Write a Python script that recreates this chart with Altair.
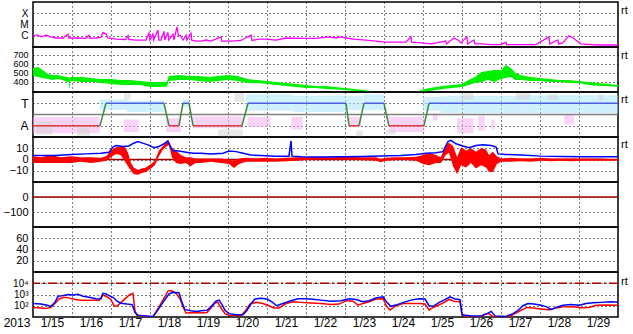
import altair as alt
import pandas as pd

# ---------------- axis labels ----------------
DAY_LABELS = ["1/15", "1/16", "1/17", "1/18", "1/19", "1/20", "1/21", "1/22",
              "1/23", "1/24", "1/25", "1/26", "1/27", "1/28", "1/29"]
DAY_NOON_HOURS = [12, 36, 60, 84, 108, 132, 156, 180, 204, 228, 252, 276, 300, 324, 348]
MIDNIGHT_HOURS = [24, 48, 72, 96, 120, 144, 168, 192, 216, 240, 264, 288, 312, 336]
YEAR_LABEL = "2013"

# ---------------- panel 1: X-ray flux (log10 W/m2), hours since 1/15 00:00 ----------------
XRAY = [(0, -6.02), (2.5, -5.93), (5, -6.1), (8, -5.95), (11, -6.1), (14, -6.2), (18.5, -6.2),
        (21.5, -5.85), (22, -6.2), (26.5, -6.2), (32.6, -6.24), (34.5, -5.95), (35, -6.22),
        (38.8, -6.2), (41.8, -6.12), (43, -5.7), (45, -5.85), (46, -6.2), (51, -6.3), (57, -6.33),
        (58.5, -6.0), (59, -6.33), (63.4, -6.38), (69.5, -6.38), (71.4, -5.75), (72, -6.38),
        (73.8, -5.85), (74.3, -6.38), (76.9, -5.5), (77.5, -6.38), (78.8, -6.38), (80.6, -5.6),
        (81.1, -6.38), (83, -5.7), (83.5, -6.38), (86.2, -5.85), (86.7, -6.38), (88.6, -5.22),
        (89.5, -6.0), (90.5, -5.95), (92.3, -6.38), (94.2, -5.95), (94.7, -6.38), (97.2, -5.75),
        (97.7, -6.4), (100.3, -6.47), (103.4, -6.47), (106.5, -6.38), (109.5, -6.47),
        (115.7, -6.1), (116.2, -6.47), (121.8, -6.47), (128, -6.42), (134.2, -5.93),
        (134.7, -6.42), (139, -6.3), (143.4, -6.3), (149.5, -6.38), (155.7, -6.2), (165, -6.24),
        (174, -6.24), (182, -6.1), (186.5, -6.2), (189.5, -6.1), (192.6, -6.2), (198.8, -6.33),
        (205, -6.38), (211, -6.47), (217, -6.56), (223.4, -6.56), (229.5, -6.56), (232.6, -6.1),
        (233, -6.56), (238.8, -6.64), (245, -6.73), (254, -6.47), (254.5, -6.73), (259, -6.2),
        (261.5, -6.38), (263.4, -6.64), (267, -6.1), (267.5, -6.73), (271.4, -6.38), (272, -6.73),
        (275.7, -6.73), (282, -6.78), (288, -6.78), (291, -6.56), (291.5, -6.78), (300.3, -6.78),
        (309.5, -6.78), (317.5, -6.1), (318, -6.73), (323, -6.38), (323.5, -6.73), (326, -6.64),
        (329.8, -6.0), (332.3, -6.2), (334.8, -6.47), (337.2, -6.73), (343.4, -6.78),
        (349.5, -6.82), (355.7, -6.82), (360, -6.82)]

# ---------------- panel 2: solar wind speed band (km/s): hour, low, high ----------------
SPEED = [(0, 463, 552), (3, 452, 563), (6, 441, 530), (9, 430, 485), (12, 418, 474), (15, 430, 474),
         (18, 418, 463), (21, 396, 452), (22, 396, 450), (22.5, 307, 430), (23, 407, 452),
         (24, 407, 452), (30, 396, 452), (36, 396, 441), (42, 385, 430), (48, 374, 430),
         (54, 363, 418), (60, 363, 418), (66, 363, 407), (72, 341, 396), (78, 341, 396),
         (82.5, 345, 400), (83.5, 407, 463), (90, 418, 474), (96, 418, 463), (102, 407, 463),
         (108, 396, 452), (114, 407, 463), (120, 418, 474), (126, 407, 463), (132, 385, 430),
         (138, 385, 418), (144, 374, 407), (150, 363, 396), (156, 352, 385), (162, 341, 374),
         (168, 330, 363), (174, 330, 352), (180, 318, 352), (186, 313, 341), (192, 307, 330),
         (198, 296, 318), (204, 285, 307), (210, 263, 285), (220, 255, 275), (230, 255, 275),
         (236, 265, 285), (241, 285, 318), (244, 296, 330), (248, 307, 341), (252, 318, 352),
         (258, 330, 363), (264, 341, 374), (268, 363, 418), (272, 385, 452), (276, 396, 507),
         (280, 418, 518), (284, 396, 530), (288, 430, 530), (291, 441, 585), (294, 452, 552),
         (297, 418, 496), (300, 418, 474), (306, 407, 452), (312, 407, 441), (318, 396, 430),
         (324, 396, 418), (330, 385, 418), (336, 385, 407), (342, 363, 396), (348, 352, 385),
         (354, 352, 374), (360, 341, 363)]

# ---------------- panel 3: IMF sector (phi, deg) ----------------
STEP_SEGMENTS = [(0, 41.2, 90, 90, "away"), (41.2, 44.9, 90, 270, "change"),
                 (44.9, 80.6, 270, 270, "toward"), (80.6, 83.7, 270, 90, "change"),
                 (83.7, 89.8, 90, 90, "away"), (89.8, 92.3, 90, 270, "change"),
                 (92.3, 96, 270, 270, "toward"), (96, 98.5, 270, 90, "change"),
                 (98.5, 128.6, 90, 90, "away"), (128.6, 132.3, 90, 270, "change"),
                 (132.3, 192.6, 270, 270, "toward"), (192.6, 194.5, 270, 90, "change"),
                 (194.5, 200.6, 90, 90, "away"), (200.6, 203.7, 90, 270, "change"),
                 (203.7, 216, 270, 270, "toward"), (216, 219, 270, 90, "change"),
                 (219, 240.6, 90, 90, "away"), (240.6, 243.7, 90, 270, "change"),
                 (243.7, 360, 270, 270, "toward")]
PHI_TOWARD = [(41, 58, 216, 300), (58, 81, 200, 290), (92, 96, 240, 300), (131, 160, 210, 340),
              (160, 193, 200, 330), (193, 203, 215, 330), (203.7, 216, 215, 340),
              (240, 251, 210, 320), (251, 300, 192, 330), (300, 360, 192, 335)]
PHI_AWAY = [(0, 41, 30, 160), (56, 65, 40, 140), (82, 91, 40, 150), (98.5, 129, 70, 165),
            (132, 146, 80, 160), (159, 166, 60, 160), (194, 202, 80, 160), (219, 241, 40, 160),
            (246, 249, 130, 190), (261, 271, 30, 150), (274, 278, 50, 170), (282, 284, 60, 140),
            (327, 333, 100, 180)]
PHI_OTHER = [(2, 12, 20, 120), (27, 35, 10, 90), (56, 60, 300, 350), (114, 129, 0, 60),
             (124, 130, 280, 350), (199, 203, 0, 50), (217, 223, 20, 60), (263, 271, 300, 350),
             (297, 306, 300, 350), (317, 323, 300, 340), (348, 351, 290, 340)]
PHI_MID = [180]

# ---------------- panel 4: IMF Bt (line) and Bz (band), nT ----------------
BT = [(0, 3.5), (8, 3.5), (14, 3.5), (23.4, 4.5), (32.6, 5), (41.8, 5.5), (46.8, 6.5), (49.2, 11),
      (51, 12.5), (55.4, 11.5), (59, 12), (62, 14.5), (64.6, 16), (66.5, 15), (70.8, 13),
      (74.5, 10.5), (77.5, 11.5), (80.6, 14), (83, 16.5), (84.3, 12), (86, 8), (89.8, 7.5),
      (94.2, 6.5), (98.5, 5.5), (103.4, 5.5), (109.5, 5), (117, 5.5), (120.6, 7.5), (125, 7),
      (128, 6), (134, 4), (140, 3.5), (149.5, 3), (157.5, 3), (158.8, 16.5), (159.4, 3),
      (165, 2.5), (177, 2.2), (189.5, 2.5), (202, 2.7), (214, 3.2), (226.5, 3.5), (235.7, 4.5),
      (241.8, 5.5), (248, 6), (252.3, 7), (255.4, 16), (257.2, 17), (260.3, 14), (264.6, 12),
      (268.3, 10.5), (272.6, 12.5), (276.9, 13), (282, 12.5), (285, 11), (286.2, 5), (291, 4.5),
      (300.3, 4), (312.6, 3), (325, 2.7), (337, 2.5), (349.5, 2.5), (360, 2.5)]
BZ = [(0, -3, 3), (5, -3, 2), (11, -3, 4), (17, -3, 2), (23.4, -3, 3), (29.5, -2, 2),
      (35.7, -3, 2), (41.8, -2, 1.5), (45, -1, 3), (48, 2, 8), (51, 5, 11), (54, 4, 12),
      (56.6, -2, 11), (58.5, -6, 6), (60.3, -10, -3), (62, -13, -7), (64.6, -13.5, -9),
      (67, -12, -8), (69.5, -11, -7), (72.6, -8, -4), (75, -5, -1), (77.5, 3, 8), (80, 9, 12),
      (82.5, 12, 16), (83.7, 13, 16), (85.5, 2, 10), (88, -3, 8), (91, -4, 4), (94, -3, 2),
      (97, -6, 2), (100, -3, 1), (103.4, -3, 1), (109.5, -2, 1), (115.7, -3, 1), (120.6, -4, 0),
      (123.7, -7.5, -1), (126.8, -4, 1), (131, -2, 1.5), (137, -2, 1), (143.4, -2, 1.5),
      (149.5, -2, 1), (155.7, -1.5, 1.5), (162, -1, 2), (168, -0.5, 2), (174, 0, 2.5),
      (183, 0, 2), (192.6, 0, 2.5), (202, -0.5, 2), (211, -1, 2), (214, -2.5, 0.5),
      (217, -1, 1.5), (223.4, -0.5, 2), (229.5, -0.5, 2), (235.7, -1, 2.5), (240, -4, 4),
      (243.7, -5, 6), (248, -3, 4), (251, -3, 2), (254, 4, 13), (256, 6, 15), (258.5, -6, 12),
      (261, -13, 2), (263.4, -5, 11), (266.5, -7, 8), (269.5, -3, 10), (272.6, -8, 7),
      (275.7, -5, 10), (278.8, -7, 9), (280.6, -11, 4), (283, -11, 7), (285.5, -4, 3),
      (288, -2, 1), (294, -2, 1.5), (300.3, -1.5, 1), (306.5, -2, 1), (312.6, -1, 1.5),
      (318.8, -1.5, 1), (325, -1, 1), (331, -1.5, 1), (337, -1, 1), (343.4, -1, 1),
      (349.5, -1, 1), (355.7, -1, 0.5), (360, -1, 0.5)]
BZ_ZERO = [0]

# ---------------- panel 5 / 6 ----------------
DST_ZERO = [0]

# ---------------- panel 7: particle flux (log10) ----------------
FLUX_BLUE = [(0, 2.2), (4.9, 2.15), (8, 2.07), (11, 1.95), (13.5, 2.3), (15.4, 2.85), (18.5, 2.9),
             (21.5, 3.0), (24.6, 2.95), (27.7, 3.02), (30.8, 2.85), (34.5, 2.75), (38.8, 2.62),
             (41.8, 2.6), (43, 3.1), (45, 3.05), (46.8, 2.9), (49.2, 2.75), (51.7, 2.4),
             (54.2, 2.22), (57.8, 2.15), (61, 2.1), (62.8, 1.4), (64.6, 1.15), (69.5, 1.1),
             (73.8, 1.05), (76.3, 1.5), (78.8, 2.05), (81.2, 2.55), (83.7, 3.05), (86.2, 3.2),
             (89.8, 3.15), (91.7, 2.3), (93.5, 1.65), (97.2, 1.55), (101, 1.5), (103.4, 1.55),
             (107, 1.6), (109.5, 1.9), (112.6, 2.4), (114.5, 2.5), (116.3, 2.1), (118.2, 1.6),
             (120.6, 1.3), (125, 1.2), (129.2, 1.2), (131.7, 1.6), (134.2, 2.2), (136.6, 2.6),
             (140.3, 2.66), (144, 2.6), (147, 2.35), (150, 2.0), (153.8, 2.2), (158.8, 2.45),
             (163, 2.62), (168, 2.62), (172.3, 2.58), (177.2, 2.5), (183.4, 2.4), (189.5, 2.45),
             (194.5, 2.62), (198.8, 2.55), (203, 2.35), (206.8, 2.45), (211, 2.7), (215.4, 2.8),
             (217.8, 2.3), (220.3, 1.95), (224, 2.1), (228.3, 2.3), (232.6, 2.5), (237.5, 2.62),
             (241.2, 2.6), (243.7, 2.0), (246.2, 1.95), (250, 2.3), (253.5, 2.55), (256.6, 2.8),
             (259.7, 2.6), (262.8, 2.55), (264, 1.2), (269.5, 1.08), (275.7, 1.1), (279.4, 1.3),
             (282, 1.5), (284.3, 1.1), (291, 1.05), (295.4, 1.3), (298.5, 1.6), (301.5, 2.0),
             (304.6, 2.2), (308.3, 2.15), (312.6, 2.05), (316.3, 1.9), (318.8, 1.65),
             (321.8, 1.85), (326.2, 2.05), (331.2, 2.1), (336.2, 2.05), (340.3, 2.2),
             (344.6, 2.27), (349.5, 2.3), (355.7, 2.35), (360, 2.3)]
FLUX_RED = [(0, 1.85), (4.9, 1.8), (8, 1.75), (11, 1.85), (13.5, 2.2), (16, 2.6), (19, 2.75),
            (22, 2.7), (25.8, 2.55), (29.5, 2.5), (35.7, 2.5), (40.6, 2.5), (43, 2.95),
            (45.5, 2.8), (48, 2.55), (49.8, 2.0), (51.7, 1.95), (54.2, 2.3), (57.2, 2.7),
            (59.7, 3.0), (61.5, 3.1), (62.8, 1.5), (64, 1.15), (69.5, 1.05), (73.8, 1.0),
            (76.3, 1.6), (78.8, 2.2), (81.2, 2.8), (83, 3.3), (85, 3.35), (88, 3.1), (90.5, 2.6),
            (92.3, 1.9), (94.2, 1.35), (98.5, 1.4), (103.4, 1.35), (107, 1.4), (109.5, 1.8),
            (112, 2.25), (113.8, 2.3), (115.7, 1.8), (118.2, 1.3), (120.6, 1.15), (128, 1.12),
            (131, 1.6), (133.5, 2.15), (137.2, 2.3), (141.5, 2.2), (145.2, 2.0), (148.3, 1.8),
            (151.4, 1.8), (155.7, 2.2), (160, 2.35), (165, 2.3), (171, 2.25), (177.2, 2.2),
            (183.4, 2.12), (188.3, 2.15), (192.6, 2.45), (197, 2.4), (200, 2.05), (203, 2.2),
            (206.8, 2.35), (211, 2.6), (215.4, 2.62), (217.8, 1.9), (219.7, 1.62), (223.4, 2.0),
            (227.7, 2.2), (232.6, 2.2), (237.5, 2.2), (241.2, 2.15), (243.7, 1.62), (246.2, 1.85),
            (251, 2.15), (254.2, 2.4), (256, 2.57), (259, 2.4), (262.8, 2.35), (264, 1.2),
            (266.5, 1.05), (275.7, 1.05), (278.8, 1.3), (280.6, 1.3), (283, 1.05), (292.9, 1.02),
            (296.6, 1.3), (300.3, 1.6), (304, 1.85), (307.7, 1.8), (312.6, 1.72), (317.5, 1.65),
            (321.8, 1.8), (326.2, 1.9), (332.3, 1.92), (337.2, 1.82), (342.2, 1.85),
            (346.5, 2.05), (352.6, 2.07), (360, 2.05)]
FLUX_THRESHOLD = [4]

# ---------------- helpers ----------------
W, H = 585, 45
FONT = "Liberation Sans"
XSCALE = alt.Scale(domain=[0, 360], nice=False, zero=False)
X_AXIS = alt.Axis(values=MIDNIGHT_HOURS, grid=True, gridDash=[1, 3], gridColor="black",
                  gridOpacity=1, gridWidth=1, labels=False, ticks=False, domain=False,
                  title=None)


def xe(field):
    return alt.X(field, type="quantitative", scale=XSCALE, axis=X_AXIS)


def make_y(domain, values, expr=None, size=11):
    kw = dict(values=values, grid=True, gridDash=[1, 3], gridColor="black", gridOpacity=1,
              gridWidth=1, ticks=False, domain=False, title=None, labelPadding=5,
              minExtent=30, maxExtent=30, labelFontSize=size)
    if expr:
        kw["labelExpr"] = expr
    scale = alt.Scale(domain=domain, nice=False, zero=False)
    axis = alt.Axis(**kw)

    def ye(field):
        return alt.Y(field, type="quantitative", scale=scale, axis=axis)
    return ye


def rt_layer(yv):
    return alt.Chart(pd.DataFrame({"t": ["rt"]})).mark_text(
        font=FONT, fontSize=11, align="left", baseline="middle", color="black"
    ).encode(x=alt.value(588), y=alt.value(yv), text="t:N")


# panel 1
y1 = make_y([-7, -3], [-4, -5, -6],
            "datum.value == -4 ? 'X' : (datum.value == -5 ? 'M' : 'C')", size=10)
p1 = alt.layer(
    alt.Chart(pd.DataFrame(XRAY, columns=["h", "v"])).mark_line(
        color="#ff00ff", strokeWidth=1.3, clip=True).encode(x=xe("h"), y=y1("v")),
    rt_layer(9),
).properties(width=W, height=H)

# panel 2
y2 = make_y([285, 785], [700, 600, 500, 400], size=9)
p2 = alt.layer(
    alt.Chart(pd.DataFrame(SPEED, columns=["h", "lo", "hi"])).mark_area(
        color="#00f000", clip=True).encode(x=xe("h"), y=y2("lo"), y2=alt.Y2("hi")),
    rt_layer(9),
).properties(width=W, height=H)

# panel 3
y3 = make_y([0, 360], [270, 90], "datum.value == 270 ? 'T' : 'A'", size=12)
bins = ([(a, b, c, d, "toward") for a, b, c, d in PHI_TOWARD] +
        [(a, b, c, d, "away") for a, b, c, d in PHI_AWAY] +
        [(a, b, c, d, "other") for a, b, c, d in PHI_OTHER])
bins_df = pd.DataFrame(bins, columns=["h0", "h1", "lo", "hi", "kind"])
steps_df = pd.DataFrame(STEP_SEGMENTS, columns=["h0", "h1", "v0", "v1", "kind"])
p3 = alt.layer(
    alt.Chart(bins_df).mark_rect(opacity=0.55, clip=True).encode(
        x=xe("h0"), x2="h1", y=y3("lo"), y2="hi",
        color=alt.Color("kind:N", legend=None,
                        scale=alt.Scale(domain=["toward", "away", "other"],
                                        range=["#a8e4fa", "#f4b0ee", "#d4d4d4"]))),
    alt.Chart(pd.DataFrame({"v": PHI_MID})).mark_rule(color="#808080", strokeWidth=1.5).encode(
        y=y3("v")),
    alt.Chart(steps_df).mark_rule(strokeWidth=1.5, clip=True).encode(
        x=xe("h0"), x2="h1", y=y3("v0"), y2="v1",
        color=alt.Color("kind:N", legend=None,
                        scale=alt.Scale(domain=["toward", "away", "change"],
                                        range=["#4a5fe0", "#e03a3a", "#3f8a3f"]))),
    rt_layer(8),
).resolve_scale(color="independent").properties(width=W, height=H)

# panel 4
y4 = make_y([-20, 20], [10, 0, -10])
p4 = alt.layer(
    alt.Chart(pd.DataFrame({"v": BZ_ZERO})).mark_rule(color="#a00000", strokeWidth=1.5).encode(
        y=y4("v")),
    alt.Chart(pd.DataFrame(BZ, columns=["h", "lo", "hi"])).mark_area(
        color="#ff0000", clip=True).encode(x=xe("h"), y=y4("lo"), y2=alt.Y2("hi")),
    alt.Chart(pd.DataFrame(BT, columns=["h", "v"])).mark_line(
        color="#0000ff", strokeWidth=1.5, clip=True).encode(x=xe("h"), y=y4("v")),
    rt_layer(8),
).properties(width=W, height=H)

# panel 5
y5 = make_y([-200, 100], [0, -100])
p5 = alt.layer(
    alt.Chart(pd.DataFrame({"h": [0, 360]})).mark_line(opacity=0).encode(
        x=xe("h"), y=alt.value(0)),
    alt.Chart(pd.DataFrame({"v": DST_ZERO})).mark_rule(color="#a00000", strokeWidth=1.5).encode(
        y=y5("v")),
).properties(width=W, height=H)

# panel 6
y6 = make_y([0, 80], [60, 40, 20])
p6 = alt.Chart(pd.DataFrame({"h": [0.0, 360.0], "v": [None, None]})).mark_line(
    opacity=0).encode(x=xe("h"), y=y6("v")).properties(width=W, height=H)

# panel 7
y7 = make_y([1, 5], [4, 3, 2],
            "datum.value == 4 ? '10⁴' : (datum.value == 3 ? '10³' : '10²')", size=10)
days_df = pd.DataFrame({"h": DAY_NOON_HOURS, "label": DAY_LABELS})
p7 = alt.layer(
    alt.Chart(pd.DataFrame({"v": FLUX_THRESHOLD})).mark_rule(
        color="#a00000", strokeWidth=1.5, strokeDash=[9, 3, 2, 3]).encode(y=y7("v")),
    alt.Chart(pd.DataFrame(FLUX_RED, columns=["h", "v"])).mark_line(
        color="#ff0000", strokeWidth=1.5, clip=True).encode(x=xe("h"), y=y7("v")),
    alt.Chart(pd.DataFrame(FLUX_BLUE, columns=["h", "v"])).mark_line(
        color="#0000ff", strokeWidth=1.5, clip=True).encode(x=xe("h"), y=y7("v")),
    alt.Chart(days_df).mark_text(font=FONT, fontSize=12, baseline="alphabetic",
                                 color="black").encode(
        x=xe("h"), y=alt.value(55), text="label:N"),
    alt.Chart(pd.DataFrame({"t": [YEAR_LABEL]})).mark_text(
        font=FONT, fontSize=12, baseline="alphabetic", align="center", color="black").encode(
        x=alt.value(-16), y=alt.value(55), text="t:N"),
    rt_layer(10),
).properties(width=W, height=H)

chart = alt.vconcat(p1, p2, p3, p4, p5, p6, p7, spacing=0, bounds="flush").properties(
    padding={"left": 2, "top": 1, "right": 0, "bottom": 0},
    background="white",
).configure_view(stroke="black", strokeWidth=1.5).configure_axis(
    labelFont=FONT, labelColor="black", labelOverlap=False
)

chart.save("out.html", embed_options={"renderer": "svg", "actions": False})
